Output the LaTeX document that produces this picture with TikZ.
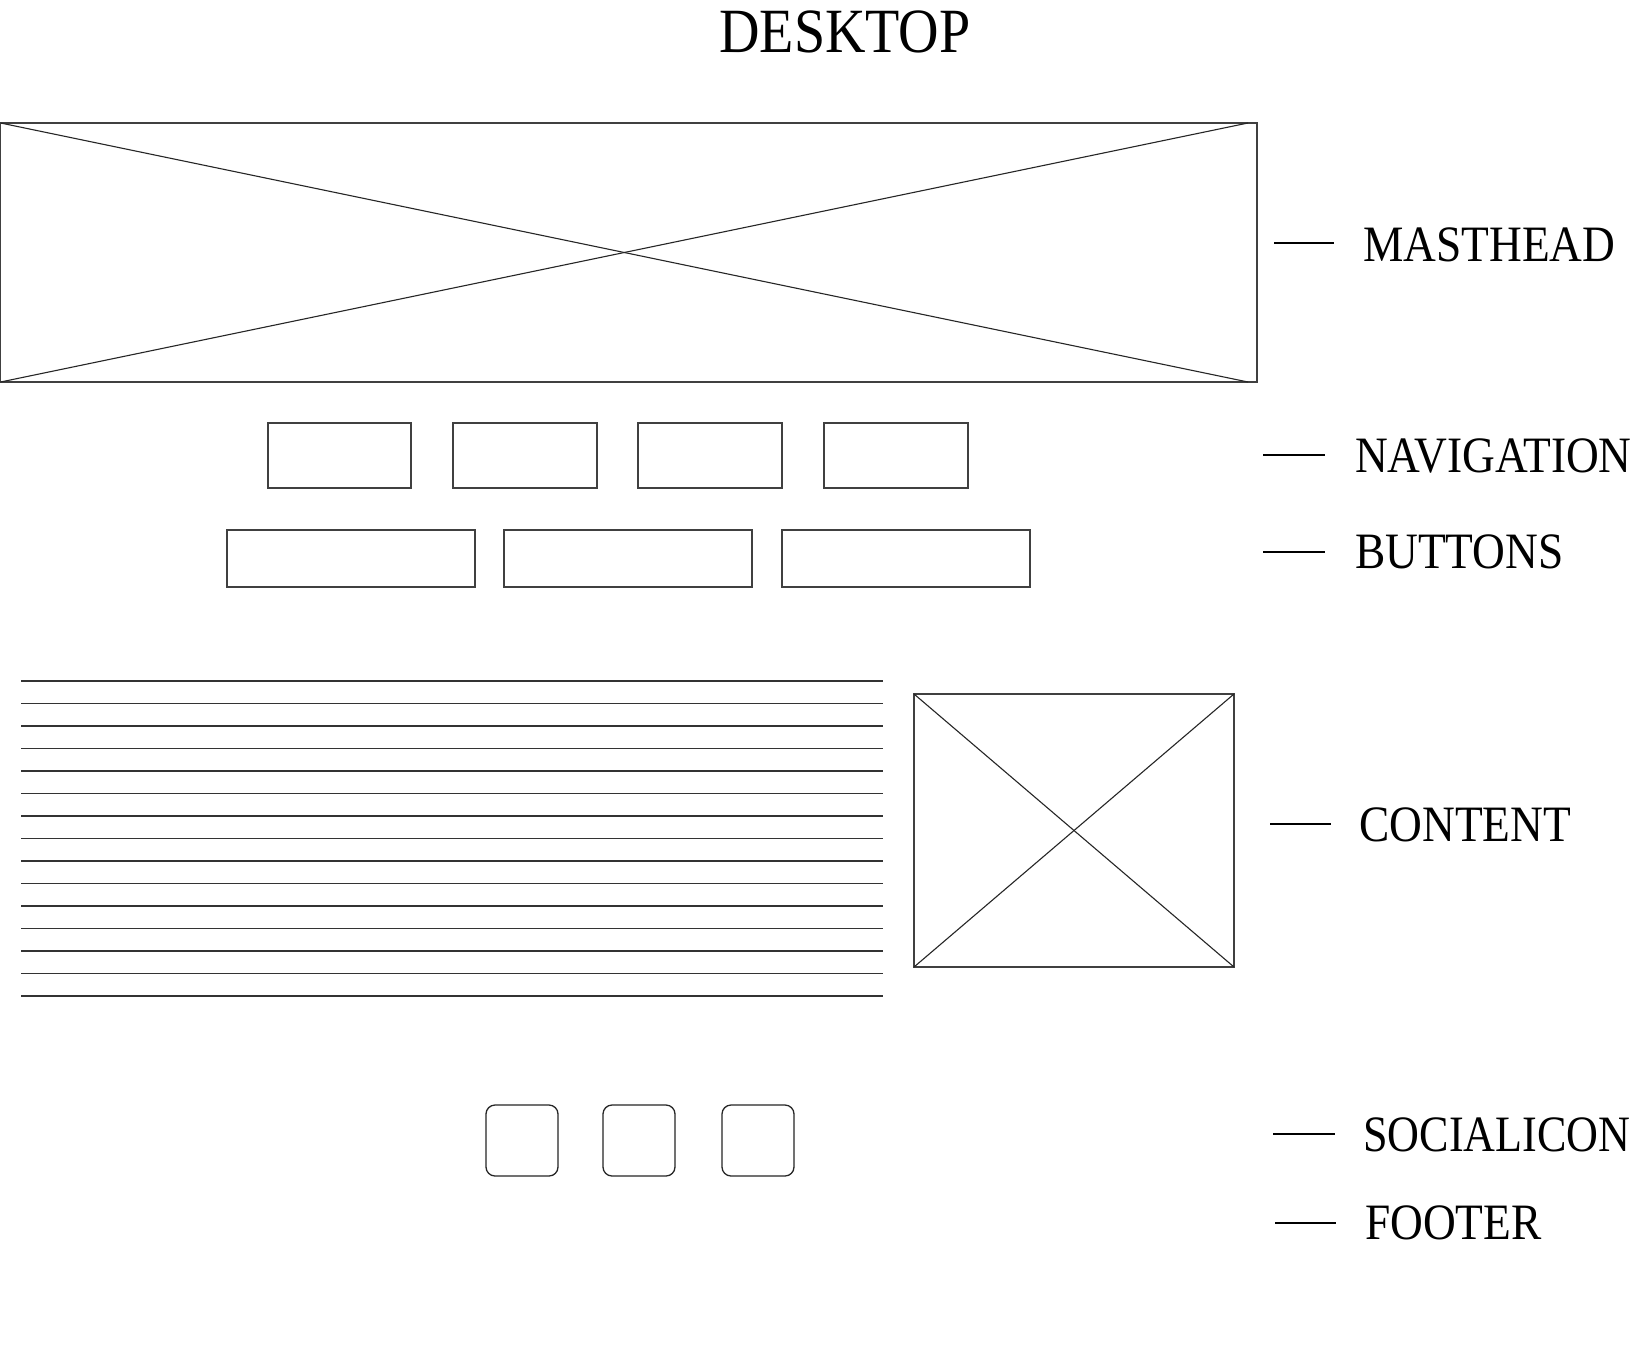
\documentclass[tikz,border=0pt]{standalone}
\usepackage{fontspec}
\setmainfont{Liberation Serif}[FakeStretch=0.89]
\newfontfamily\narrowserif{Liberation Serif}[FakeStretch=0.865]
\begin{document}
\begin{tikzpicture}[x=1pt,y=-1pt,
  frame/.style={draw=black!75,line width=1.2pt},
  xline/.style={draw=black!85,line width=1.1pt},
  tline/.style={draw=black!80,line width=1.2pt},
  icon/.style={draw=black!85,line width=1.3pt,rounded corners=9pt},
  dashmark/.style={draw=black,line width=2.6pt},
  lbl/.style={anchor=base west,inner sep=0pt,font=\fontsize{51}{55}\selectfont},
  title/.style={anchor=base,inner sep=0pt,font=\fontsize{63}{68}\selectfont}]
\useasboundingbox[fill=white] (0,0) rectangle (1633,1363);
% title
\node[title] (desktop) at (845,52) {DESKTOP};
% masthead
\draw[frame] (0.6,123) rectangle (1257,382);
\draw[xline] (0.6,123) -- (1248,382);
\draw[xline] (0.6,382) -- (1248,123);
% navigation
\foreach \a/\b in {268/411,453/597,638/782,824/968}
  \draw[frame] (\a,423) rectangle (\b,488);
% buttons
\foreach \a/\b in {227/475,504/752,782/1030}
  \draw[frame] (\a,530) rectangle (\b,587);
% text lines
\foreach \i in {0,...,14}
  \draw[tline] (21,681+22.5*\i) -- (883,681+22.5*\i);
% content image
\draw[frame] (914,694) rectangle (1234,967);
\draw[xline] (914,694) -- (1234,967);
\draw[xline] (914,967) -- (1234,694);
% social icons
\foreach \a in {486,603,722}
  \draw[icon] (\a,1105) rectangle (\a+72,1176);
% labels
\draw[dashmark] (1274,243) -- (1334,243);
\node[lbl] (masthead) at (1363,261) {MASTHEAD};
\draw[dashmark] (1263,455) -- (1325,455);
\node[lbl] (navigation) at (1355,472) {NAVIGATION};
\draw[dashmark] (1263,552) -- (1325,552);
\node[lbl] (buttons) at (1355,568) {BUTTONS};
\draw[dashmark] (1270,824) -- (1331,824);
\node[lbl] (content) at (1359,841) {CONTENT};
\draw[dashmark] (1273,1134) -- (1335,1134);
\node[lbl] (socialicon) at (1363,1151) {\narrowserif SOCIALICON};
\draw[dashmark] (1275,1223) -- (1336,1223);
\node[lbl] (footer) at (1365,1239) {FOOTER};
\end{tikzpicture}
\end{document}
